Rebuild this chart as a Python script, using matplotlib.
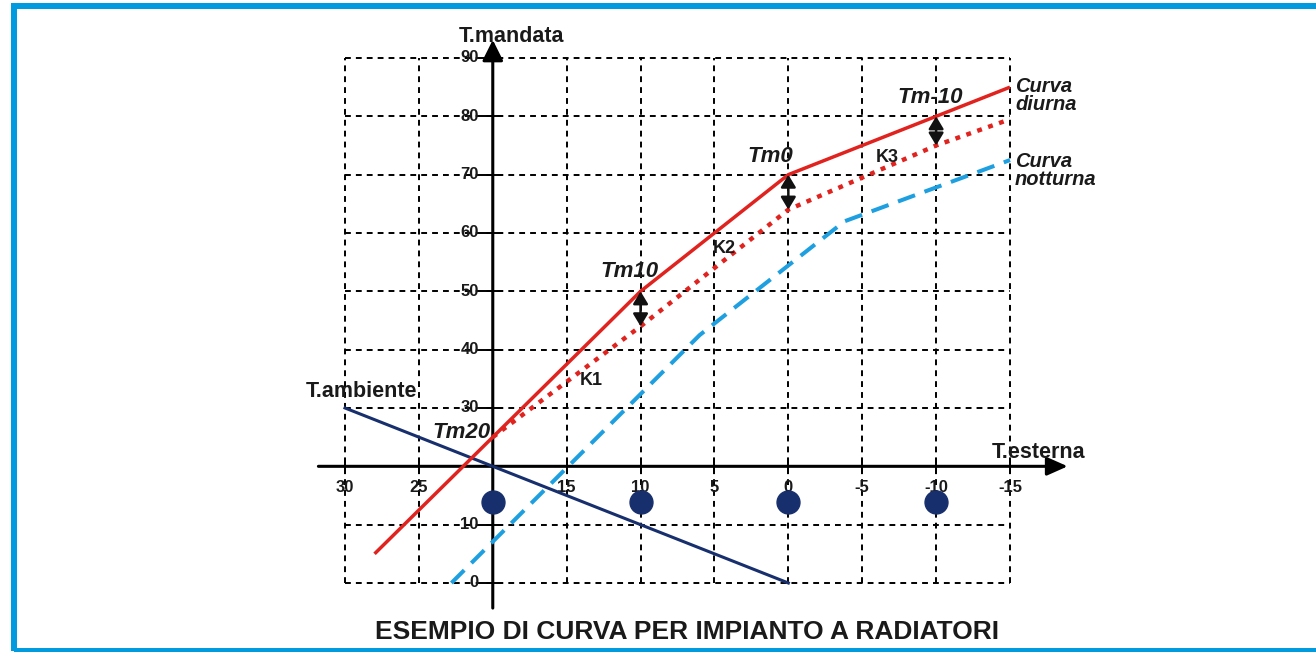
import matplotlib
matplotlib.use("Agg")
import matplotlib.pyplot as plt
from matplotlib.patches import Rectangle, FancyArrowPatch

plt.rcParams['font.family'] = ['Liberation Sans', 'DejaVu Sans']

# dati
t_est_grid = [30, 25, 20, 15, 10, 5, 0, -5, -10, -15]
t_mand_grid = [0, 10, 20, 30, 40, 50, 60, 70, 80, 90]
x_tick_labels = [30, 25, 15, 10, 5, 0, -5, -10, -15]
y_tick_labels = [90, 80, 70, 60, 50, 40, 30, 10, 0]

diurna_x = [28, 20, 10, 0, -10, -15]
diurna_y = [5, 25, 50, 70, 80, 85]

ridotta_x = [20, 10, 0, -10, -15]
ridotta_y = [25, 44, 64, 75, 79.5]

notturna_x = [22.8, 6, -3.8, -15]
notturna_y = [0, 42.5, 62, 72.5]

ambiente_x = [30, 0]
ambiente_y = [30, 0]

punti_x = [20, 10, 0, -10]
punti_y = [13.9, 13.9, 13.9, 13.9]

# frecce K (x, da, a)
frecce_x = [10, 0, -10]
frecce_top = [50, 70, 80]
frecce_bot = [44, 64, 75]

tm_labels = ["Tm20", "Tm10", "Tm0", "Tm-10"]
tm_pos = [(24.1, 24.9), (12.7, 52.5), (2.8, 72.2), (-7.4, 82.3)]
k_labels = ["K1", "K2", "K3"]
k_pos = [(14.1, 33.9), (5.1, 56.6), (-5.9, 72.2)]

RED = '#E0231E'
BLUE = '#1E9FE0'
NAVY = '#182F6E'
FRAME = '#009ADF'
INK = '#1a1a1a'

fig = plt.figure(figsize=(13.16, 6.52), dpi=100)
ax = fig.add_axes([0, 0, 1, 1])
ax.set_xlim(53.345, -35.706)
ax.set_ylim(-11.83, 99.94)
ax.axis('off')

# griglia tratteggiata
grid_ls = (0, (3, 2.6))
ax.vlines(t_est_grid, min(t_mand_grid), max(t_mand_grid), colors='black',
          linewidth=1.4, linestyles=[grid_ls], zorder=1)
ax.hlines(t_mand_grid, max(t_est_grid), min(t_est_grid), colors='black',
          linewidth=1.4, linestyles=[grid_ls], zorder=1)

# assi con frecce
ax.annotate('', xy=(-18.9, 20), xytext=(31.8, 20),
            arrowprops=dict(arrowstyle='-|>,head_length=0.9,head_width=0.4',
                            color='black', lw=2.2, shrinkA=0, shrinkB=0,
                            mutation_scale=14), zorder=3)
ax.annotate('', xy=(20, 93.1), xytext=(20, -4.3),
            arrowprops=dict(arrowstyle='-|>,head_length=0.9,head_width=0.45',
                            color='black', lw=2.2, shrinkA=0, shrinkB=0,
                            mutation_scale=14), zorder=3)

# tacche
for y in t_mand_grid:
    ax.plot([20.75, 19.4], [y, y], color='black', lw=1.4, zorder=3)
for x in t_est_grid:
    ax.plot([x, x], [18.8, 21.2], color='black', lw=1.4, zorder=3)

tick_font = dict(fontsize=12, fontweight='bold', color=INK)
for v in y_tick_labels:
    ax.text(20.95, v, str(v), ha='right', va='center', zorder=4, **tick_font)
for v in x_tick_labels:
    ax.text(v, 16.4, str(v), ha='center', va='center', zorder=4, **tick_font)

# curve
ax.plot(ambiente_x, ambiente_y, color=NAVY, lw=2.2, zorder=5)
ax.plot(notturna_x, notturna_y, color=BLUE, lw=2.9, linestyle=(0, (4.5, 2.5)), zorder=5)
ax.plot(ridotta_x, ridotta_y, color=RED, lw=3.2, linestyle=(0, (1.1, 1.5)), zorder=6)
ax.plot(diurna_x, diurna_y, color=RED, lw=2.5, zorder=6, solid_capstyle='butt')

ax.plot(punti_x, punti_y, 'o', color=NAVY, markersize=16.5, zorder=7)

for x, y1, y2 in zip(frecce_x, frecce_top, frecce_bot):
    ax.add_patch(FancyArrowPatch((x, y2), (x, y1),
                                 arrowstyle='<|-|>,head_length=0.5,head_width=0.3',
                                 mutation_scale=15, color='#111111', lw=1.8,
                                 shrinkA=0, shrinkB=0, zorder=8))

# testi
name_font = dict(fontsize=15.5, fontweight='bold', color=INK)
ax.text(18.7, 92.7, "T.mandata", ha='center', va='baseline', **name_font)
ax.text(32.64, 31.9, "T.ambiente", ha='left', va='baseline', **name_font)
ax.text(-13.78, 21.4, "T.esterna", ha='left', va='baseline', **name_font)

for lab, (x, y) in zip(tm_labels, tm_pos):
    ax.text(x, y, lab, ha='left', va='baseline', fontsize=16, fontweight='bold',
            style='italic', color=INK, zorder=9)
for lab, (x, y) in zip(k_labels, k_pos):
    ax.text(x, y, lab, ha='left', va='baseline', fontsize=13, fontweight='bold',
            color=INK, zorder=9)

ax.text(-15.34, 86.8, "Curva\ndiurna", ha='left', va='top', fontsize=14.5,
        fontweight='bold', style='italic', color=INK, linespacing=0.95)
ax.text(-15.34, 73.9, "Curva\nnotturna", ha='left', va='top', fontsize=14.5,
        fontweight='bold', style='italic', color=INK, linespacing=0.95)

ax.text(6.86, -9.6, "ESEMPIO DI CURVA PER IMPIANTO A RADIATORI", ha='center',
        va='baseline', fontsize=19, fontweight='bold', color=INK)

# cornice blu
fig.add_artist(Rectangle((13.5 / 1316, 1 - 651 / 652), 1.1, (651 - 6) / 652,
                         transform=fig.transFigure, fill=False,
                         edgecolor=FRAME, linewidth=4.3))

fig.savefig("out.png", dpi=100)
